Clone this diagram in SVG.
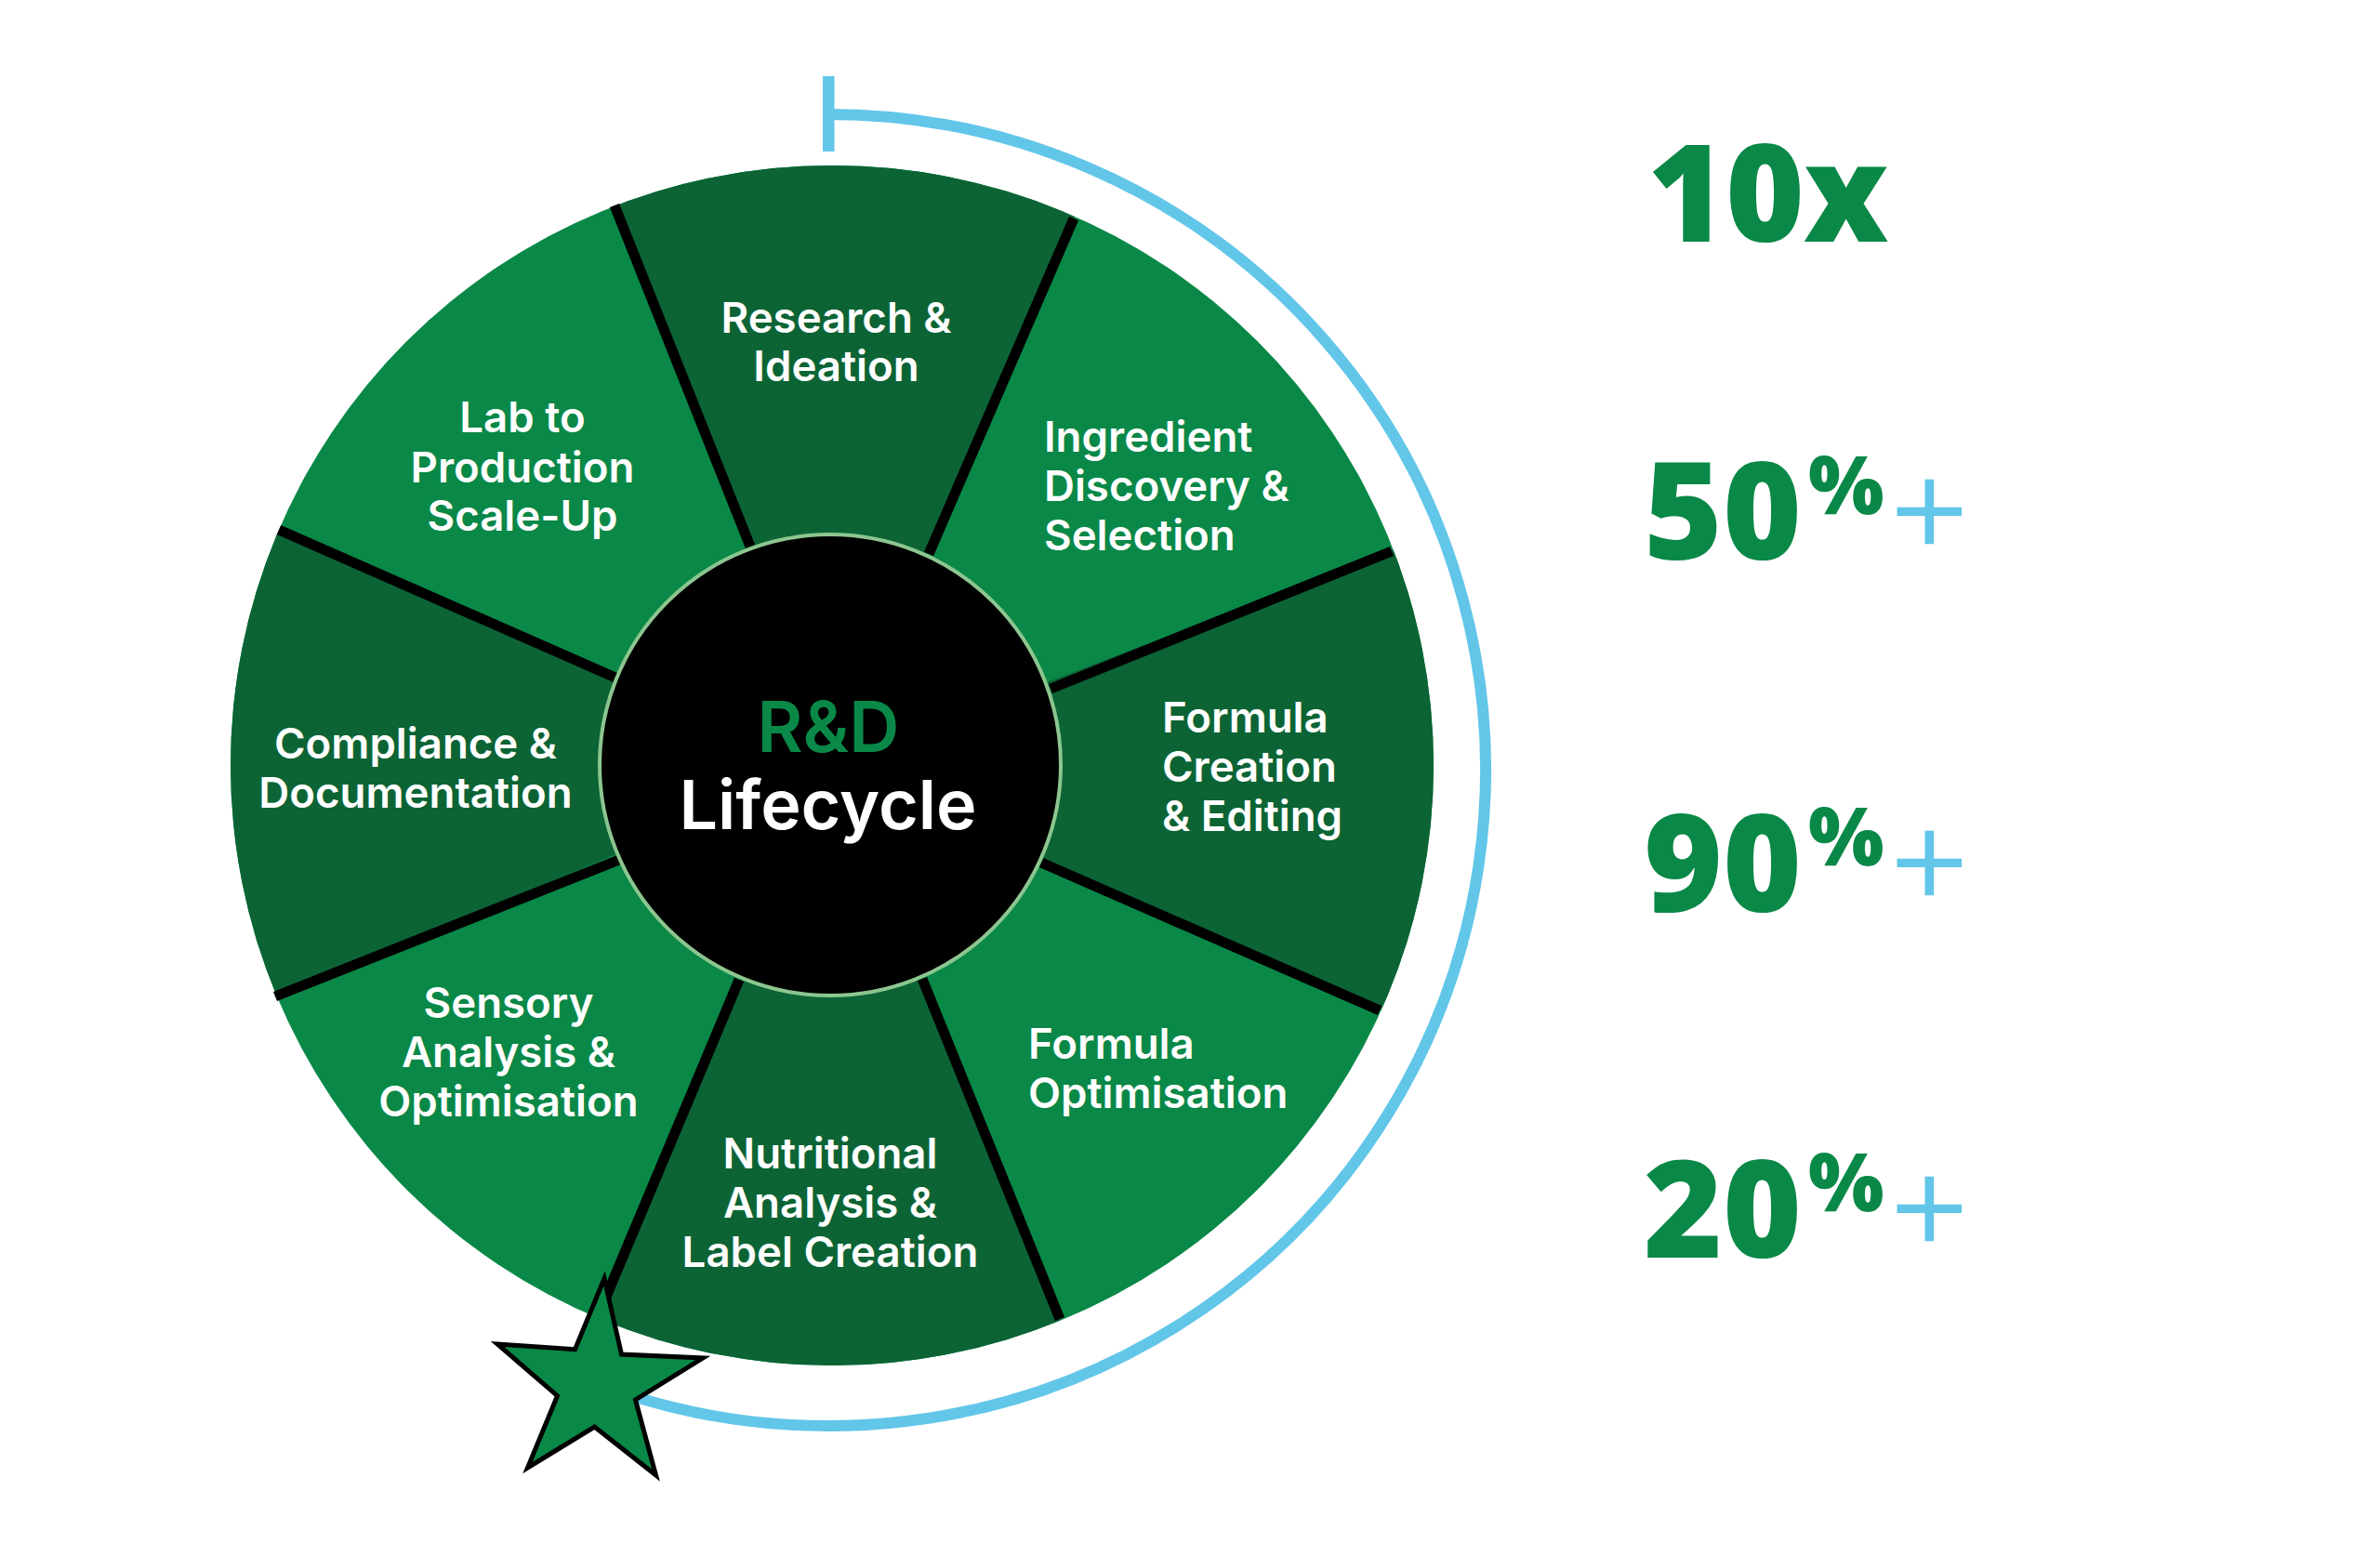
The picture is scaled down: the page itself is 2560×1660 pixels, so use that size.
<svg xmlns="http://www.w3.org/2000/svg" width="2560" height="1660" viewBox="0 0 2560 1660">
<defs><clipPath id="disc"><ellipse cx="895" cy="823.5" rx="647" ry="645.5"/></clipPath></defs>
<style>
.lbl{font-family:"Inter","Liberation Sans",sans-serif;font-weight:600;font-size:45.6px;fill:#fff}
.m{text-anchor:middle}
.stat{font-family:"Open Sans","Liberation Sans",sans-serif;font-weight:800;font-size:145px;fill:#0a8847}
.pct{font-family:"Open Sans","Liberation Sans",sans-serif;font-weight:800;font-size:86px;fill:#0a8847}
.plus{font-family:"Inter","Liberation Sans",sans-serif;font-weight:300;font-size:154px;fill:#62c6e9}
.dark{fill:#0c6435}
.div{stroke:#000;stroke-width:11;fill:none}
</style>
<rect width="2560" height="1660" fill="#fff"/>
<g id="arc">
<path d="M891,123 A707,705.5 0 1 1 687,1504" fill="none" stroke="#62c6e9" stroke-width="12"/>
<rect x="885" y="82" width="12.5" height="81" fill="#62c6e9"/>
</g>
<g id="wheel">
<ellipse cx="895" cy="823.5" rx="647" ry="645.5" fill="#0a8847"/>
<g clip-path="url(#disc)">
<polygon class="dark" points="893,823 646,184 646,100 1171,100 1171,199"/>
<polygon class="dark" points="893,823 1534,578 1650,578 1650,1103 1520,1103"/>
<polygon class="dark" points="893,823 1155,1456 1155,1550 630,1550 630,1445"/>
<polygon class="dark" points="893,823 259,1087 150,1087 150,554 264,554"/>
</g>
</g>
<g id="connectors">
<path class="div" d="M661,221 L807,588"/>
<path class="div" d="M1155,235 L999,596"/>
<path class="div" d="M1497,593 L1130,741"/>
<path class="div" d="M1484,1087 L1120,928"/>
<path class="div" d="M1140,1419 L992,1053"/>
<path class="div" d="M652,1395 L795,1054"/>
<path class="div" d="M296,1072 L666,925"/>
<path class="div" d="M300,570 L662,729"/>
</g>
<g id="hub">
<circle cx="893" cy="823" r="248" fill="#000" stroke="#8cc68f" stroke-width="4"/>
<text x="891" y="809" text-anchor="middle" font-family="Inter,'Liberation Sans',sans-serif" font-weight="600" font-size="75" fill="#0a8847">R&amp;D</text>
<text x="890.5" y="892" text-anchor="middle" font-family="Inter,'Liberation Sans',sans-serif" font-weight="600" font-size="73.5" fill="#fff">Lifecycle</text>
</g>
<g id="s1"><text class="lbl m" x="899.5" y="357.5">Research &amp;</text><text class="lbl m" x="899.5" y="410">Ideation</text></g>
<g id="s2"><text class="lbl" x="1123" y="486">Ingredient</text><text class="lbl" x="1123" y="539">Discovery &amp;</text><text class="lbl" x="1123" y="592">Selection</text></g>
<g id="s3"><text class="lbl" x="1250" y="788">Formula</text><text class="lbl" x="1250" y="841">Creation</text><text class="lbl" x="1250" y="894">&amp; Editing</text></g>
<g id="s4"><text class="lbl" x="1106" y="1139">Formula</text><text class="lbl" x="1106" y="1192">Optimisation</text></g>
<g id="s5"><text class="lbl m" x="893" y="1257">Nutritional</text><text class="lbl m" x="893" y="1310">Analysis &amp;</text><text class="lbl m" x="893" y="1363">Label Creation</text></g>
<g id="s6"><text class="lbl m" x="547" y="1095">Sensory</text><text class="lbl m" x="547" y="1148">Analysis &amp;</text><text class="lbl m" x="547" y="1201">Optimisation</text></g>
<g id="s7"><text class="lbl m" x="447" y="816">Compliance &amp;</text><text class="lbl m" x="447" y="869">Documentation</text></g>
<g id="s8"><text class="lbl m" x="562" y="465">Lab to</text><text class="lbl m" x="562" y="518.5">Production</text><text class="lbl m" x="562" y="571">Scale-Up</text></g>
<g id="star"><polygon points="650,1375.5 668.5,1457 756,1461 683.5,1506 705.5,1587 639.5,1535 567.5,1579 599.5,1501.7 535,1446 618.5,1451.7" fill="#0a8847" stroke="#000" stroke-width="5" stroke-miterlimit="10"/></g>
<g id="stat1"><text class="stat" x="1772" y="260" letter-spacing="-1">10x</text></g>
<g id="stat2"><text class="stat" x="1768" y="602">50</text><text class="pct" x="1945" y="553">%</text><text class="plus" x="2025" y="594">+</text></g>
<g id="stat3"><text class="stat" x="1768" y="981">90</text><text class="pct" x="1945" y="931">%</text><text class="plus" x="2025" y="972">+</text></g>
<g id="stat4"><text class="stat" x="1768" y="1353">20</text><text class="pct" x="1945" y="1303">%</text><text class="plus" x="2025" y="1344">+</text></g>
</svg>
